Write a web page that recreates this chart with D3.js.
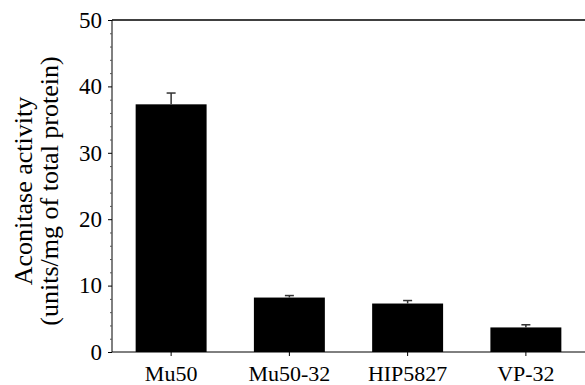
<!DOCTYPE html>
<html><head><meta charset="utf-8">
<script src="https://cdn.jsdelivr.net/npm/d3@7"></script>
<style>body{margin:0;background:#fff}svg{display:block}text{font-family:"Liberation Serif","Times New Roman",serif;fill:#000}</style>
</head><body>
<svg id="c" width="585" height="385"></svg>
<script>
const categories = ["Mu50", "Mu50-32", "HIP5827", "VP-32"];
const values = [37.3, 8.2, 7.3, 3.7];
const errors = [1.7, 0.3, 0.45, 0.4];
const yTicks = [0, 10, 20, 30, 40, 50];
const yMinor = [2,4,6,8,12,14,16,18,22,24,26,28,32,34,36,38,42,44,46,48];
const yTitle = ["Aconitase activity", "(units/mg of total protein)"];

const svg = d3.select("#c");
const L = 112, R = 585, T = 20, B = 352;
const x = d3.scaleBand().domain(categories).range([L, R]).paddingInner(0.4).paddingOuter(0.2);
const y = d3.scaleLinear().domain([0, 50]).range([B, T]);

// bars
svg.selectAll("rect.bar").data(categories).join("rect")
  .attr("x", d => x(d)).attr("width", x.bandwidth())
  .attr("y", (d,i) => y(values[i])).attr("height", (d,i) => y(0) - y(values[i]))
  .attr("fill", "#000");

// error bars
const eb = svg.append("g").attr("stroke", "#333").attr("stroke-width", 1.5);
categories.forEach((c, i) => {
  const cx = x(c) + x.bandwidth()/2;
  eb.append("line").attr("x1", cx).attr("x2", cx).attr("y1", y(values[i])).attr("y2", y(values[i]+errors[i]));
  eb.append("line").attr("x1", cx-4.5).attr("x2", cx+4.5).attr("y1", y(values[i]+errors[i])).attr("y2", y(values[i]+errors[i]));
});

// y axis
const ya = svg.append("g").attr("transform", `translate(${L},0)`)
  .call(d3.axisLeft(y).tickValues(yTicks).tickSize(4).tickPadding(6).tickFormat(d3.format("d")));
ya.select(".domain").attr("d", `M0,${T}V${B}`).attr("stroke", "#000");
ya.selectAll(".tick line").attr("stroke", "#000");
ya.selectAll(".tick text").style("font-size", "23px").style("font-family", '"Liberation Serif",serif');
const ym = svg.append("g").attr("transform", `translate(${L},0)`)
  .call(d3.axisLeft(y).tickValues(yMinor).tickSize(2).tickFormat(""));
ym.select(".domain").remove();
ym.selectAll(".tick line").attr("stroke", "#555");

// x axis
const xa = svg.append("g").attr("transform", `translate(0,${B})`)
  .call(d3.axisBottom(x).tickSize(4).tickPadding(9));
xa.select(".domain").attr("d", `M${L},0H${R}`).attr("stroke", "#000");
xa.selectAll(".tick line").attr("stroke", "#000");
xa.selectAll(".tick text").style("font-size", "22px").style("font-family", '"Liberation Serif",serif');

// top line
svg.append("line").attr("x1", L).attr("x2", R).attr("y1", T).attr("y2", T).attr("stroke", "#000").attr("stroke-width", 1.5);

// y title
const cy = (T + B) / 2 + 5;
svg.append("text").attr("transform", `translate(32,${cy}) rotate(-90)`).attr("text-anchor", "middle")
  .style("font-size", "26px").text(yTitle[0]);
svg.append("text").attr("transform", `translate(58,${cy}) rotate(-90)`).attr("text-anchor", "middle")
  .style("font-size", "26px").text(yTitle[1]);
</script>
</body></html>
